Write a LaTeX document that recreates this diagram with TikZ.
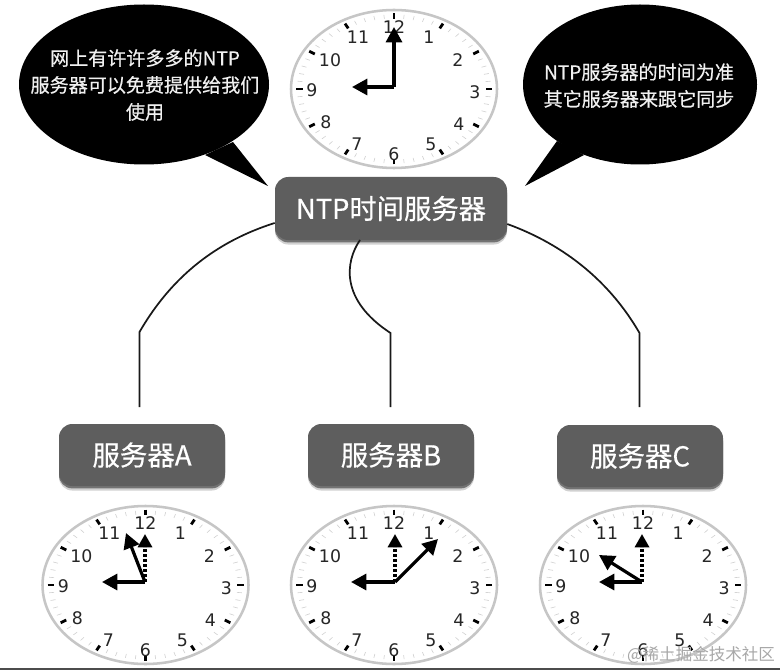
\documentclass[tikz,border=0pt]{standalone}
\usepackage{fontspec}
\setmainfont{Noto Sans CJK SC}
\newfontfamily\digitfont{DejaVu Sans}
\newfontfamily\semifont[FakeBold=0.5]{Noto Sans CJK SC}
\usetikzlibrary{arrows.meta,shapes.geometric}
\definecolor{boxgray}{HTML}{5E5E5E}
\definecolor{ringgray}{HTML}{C6C6C6}
\definecolor{tickgray}{HTML}{D0D0D0}
\definecolor{bubbletext}{HTML}{F0F0F0}
\definecolor{markgray}{HTML}{A8A8A8}
\tikzset{
  x=.75pt,y=-.75pt,
  boxshadow/.style={
    preaction={fill=black!18,transform canvas={yshift=-3.4pt}},
    preaction={fill=black!55,transform canvas={yshift=-1.8pt}}},
  titlebox/.style={boxshadow,fill=boxgray,rounded corners=10pt,text=white,inner sep=0pt,
    minimum width=174pt,minimum height=47.25pt,font=\semifont\fontsize{20.5}{26}\selectfont},
  serverbox/.style={boxshadow,fill=boxgray,rounded corners=10pt,text=white,inner sep=0pt,
    minimum width=124.5pt,minimum height=46.5pt,font=\semifont\fontsize{20.6}{24}\selectfont},
  bubble/.style={ellipse,fill=black,inner sep=0pt},
  bubbletextstyle/.style={text=bubbletext,inner sep=0pt,align=center,
    font=\semifont\fontsize{14.3}{20.2}\selectfont},
  linkline/.style={draw=black!90,line width=1.3pt},
  clockring/.style={ellipse,draw=ringgray,fill=white,line width=1.9pt,inner sep=0pt,
    minimum width=154.5pt,minimum height=118.5pt},
  clocknum/.style={inner sep=0pt,text=black!85,font=\digitfont\fontsize{13}{13}\selectfont},
  bigtick/.style={line width=2.1pt,black},
  smalltick/.style={line width=.45pt,tickgray},
  solidhand/.style={line width=2.4pt,black,-{Triangle[length=11.5pt,width=12pt]}},
  dothand/.style={line width=2.4pt,black,dash pattern=on 2pt off 1.8pt,
    -{Triangle[length=10pt,width=10.5pt]}},
}
\newcommand{\clockface}[3]{%
  \begin{scope}[shift={(#2,#3)}]
    \node[clockring] (#1ring) at (0,0) {};
    \foreach \m in {0,6,...,354}{
      \draw[smalltick] ({97*sin(\m)},{-74.5*cos(\m)}) -- ({92*sin(\m)},{-70.5*cos(\m)});
    }
    \foreach \m in {0,30,...,330}{
      \draw[bigtick] ({98*sin(\m)},{-75.5*cos(\m)}) -- ({91.5*sin(\m)},{-70*cos(\m)});
    }
    \node[clocknum] (#1n12) at (0,-62) {12};
    \node[clocknum] (#1n1) at (35,-52) {1};
    \node[clocknum] (#1n2) at (64,-29) {2};
    \node[clocknum] (#1n3) at (81,3) {3};
    \node[clocknum] (#1n4) at (65,35) {4};
    \node[clocknum] (#1n5) at (37,55) {5};
    \node[clocknum] (#1n6) at (0,65) {6};
    \node[clocknum] (#1n7) at (-37,55) {7};
    \node[clocknum] (#1n8) at (-68,33) {8};
    \node[clocknum] (#1n9) at (-82,1) {9};
    \node[clocknum] (#1n10) at (-64,-29) {10};
    \node[clocknum] (#1n11) at (-36,-52) {11};
  \end{scope}}
\begin{document}
\begin{tikzpicture}
\useasboundingbox (0,0) rectangle (780,670);
\fill[white] (0,0) rectangle (780,670);
\fill[black!70] (0,668) rectangle (780,670);

% speech bubbles
\fill[black] (233,142) -- (268,186) -- (205,155) -- cycle;
\node[bubble,minimum width=187.5pt,minimum height=120pt] (leftbubble) at (144,84.5) {};
\node[bubbletextstyle] (lefttext) at (145,85)
  {网上有许许多多的NTP\\服务器可以免费提供给我们\\使用};
\fill[black] (557,141) -- (525,186) -- (584,155) -- cycle;
\node[bubble,minimum width=175.5pt,minimum height=120pt] (rightbubble) at (640,84.5) {};
\node[bubbletextstyle] (righttext) at (639,85.5)
  {NTP服务器的时间为准\\其它服务器来跟它同步};

% clocks
\clockface{top}{394}{89}
\clockface{a}{145.5}{585}
\clockface{b}{394}{585}
\clockface{c}{643}{585}

% hands
\coordinate (topc) at (394,87);
\coordinate (toph) at (394,27);
\coordinate (topl) at (352,87);
\draw[solidhand] (topc) -- (toph);
\draw[solidhand] (topc) -- (topl);

\coordinate (ac) at (145,582);
\coordinate (ad) at (145,534);
\coordinate (as) at (126,533);
\coordinate (al) at (102,582);
\draw[dothand] (ac) -- (ad);
\draw[solidhand] (ac) -- (as);
\draw[solidhand] (ac) -- (al);

\coordinate (bc) at (395,582);
\coordinate (bd) at (395,534);
\coordinate (bs) at (438,539);
\coordinate (bl) at (351,582);
\draw[dothand] (bc) -- (bd);
\draw[solidhand] (bc) -- (bs);
\draw[solidhand] (bc) -- (bl);

\coordinate (cc) at (642,582);
\coordinate (cd) at (642,534);
\coordinate (cs) at (599,555);
\coordinate (cl) at (599,582);
\draw[dothand] (cc) -- (cd);
\draw[solidhand] (cc) -- (cs);
\draw[solidhand] (cc) -- (cl);

% boxes
\node[titlebox] (ntp) at (391,208.5) {NTP时间服务器};
\node[serverbox] (srva) at (142,455) {服务器A};
\node[serverbox] (srvb) at (391,455) {服务器B};
\node[serverbox] (srvc) at (640,456) {服务器C};

% connectors
\coordinate (abend) at (139.5,332);
\coordinate (bbend) at (390.5,333);
\coordinate (cbend) at (639.5,333);
\coordinate (aend) at (139.5,407);
\coordinate (bend) at (390.5,407);
\coordinate (cend) at (639.5,407);
\draw[linkline] (ntp.west |- 0,223) .. controls (205,245) and (165,288) .. (abend) -- (aend);
\draw[linkline] (360,240) .. controls (345,262) and (340,300) .. (bbend) -- (bend);
\draw[linkline] (ntp.east |- 0,224) .. controls (565,245) and (610,282) .. (cbend) -- (cend);

% watermark
\node[inner sep=0pt,text=markgray,font=\fontsize{12.4}{14}\selectfont] (mark) at (701,655) {@稀土掘金技术社区};
\end{tikzpicture}
\end{document}
